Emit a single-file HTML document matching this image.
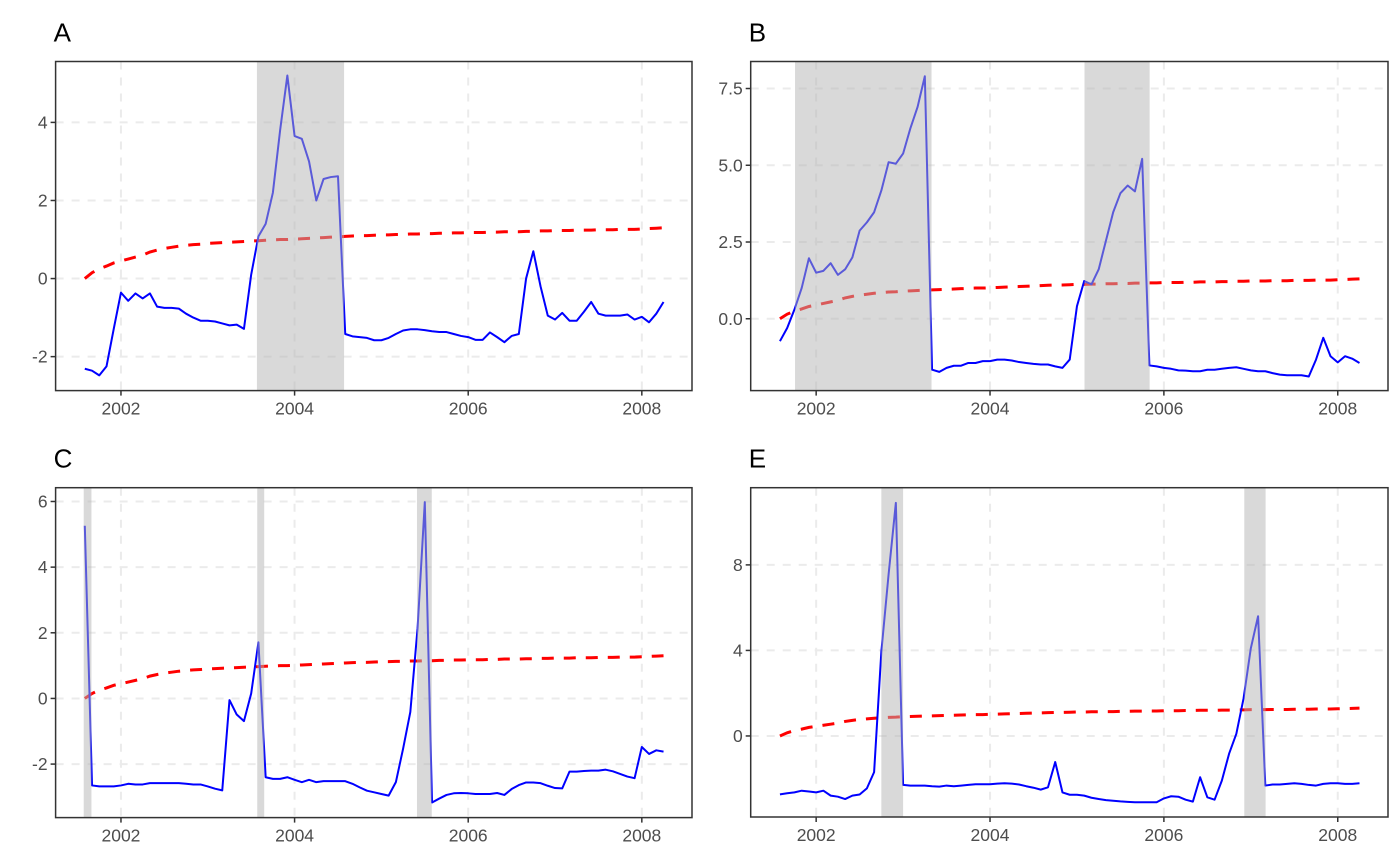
<!DOCTYPE html>
<html><head><meta charset="utf-8"><style>
html,body{margin:0;padding:0;background:#fff;}
svg{display:block;font-family:"Liberation Sans",sans-serif;}
</style></head><body>
<svg id="chart" width="1400" height="866" viewBox="0 0 1400 866"></svg>
<script>
const monthsStart = 2001 + 7/12;
const xTicks = [2002, 2004, 2006, 2008];
const redA = [0,0.15,0.25,0.32,0.4, 0.45,0.5,0.55,0.6,0.68,0.73,0.77,0.8,0.83,0.85,0.87,0.88, 0.9,0.91,0.92,0.93,0.94,0.95,0.96,0.97,0.98,0.99,1.0,1.0, 1.01,1.02,1.03,1.04,1.05,1.06,1.07,1.08,1.09,1.1,1.1,1.11, 1.12,1.12,1.13,1.13,1.14,1.14,1.15,1.15,1.16,1.16,1.17,1.17, 1.18,1.18,1.18,1.19,1.19,1.2,1.2,1.2,1.21,1.21,1.22,1.22, 1.23,1.23,1.23,1.24,1.24,1.24,1.25,1.25,1.25,1.26,1.26,1.26, 1.27,1.28,1.29,1.3];
const blueA = [-2.31,-2.36,-2.48,-2.25,-1.29, -0.36,-0.57,-0.38,-0.51,-0.38,-0.72,-0.75,-0.75,-0.77,-0.9,-1.0,-1.08, -1.08,-1.1,-1.15,-1.2,-1.18,-1.29,0.1,1.08,1.4,2.2,3.8,5.2, 3.65,3.58,3.0,2.0,2.55,2.6,2.62,-1.42,-1.48,-1.5,-1.52,-1.58, -1.58,-1.52,-1.42,-1.33,-1.3,-1.3,-1.32,-1.35,-1.37,-1.37,-1.42,-1.47, -1.5,-1.57,-1.57,-1.38,-1.5,-1.63,-1.47,-1.42,0.0,0.7,-0.2,-0.95, -1.05,-0.88,-1.08,-1.08,-0.85,-0.6,-0.9,-0.95,-0.95,-0.95,-0.92,-1.05, -0.98,-1.12,-0.9,-0.6];
const blueB = [-0.73,-0.3,0.3,1.0,1.97, 1.5,1.56,1.81,1.43,1.61,2.0,2.87,3.14,3.47,4.18,5.1,5.05, 5.38,6.2,6.9,7.9,-1.66,-1.73,-1.6,-1.53,-1.53,-1.44,-1.44,-1.38, -1.38,-1.33,-1.33,-1.36,-1.41,-1.44,-1.47,-1.49,-1.49,-1.55,-1.6,-1.33, 0.41,1.23,1.12,1.61,2.54,3.47,4.09,4.34,4.15,5.21,-1.52,-1.55, -1.6,-1.63,-1.68,-1.69,-1.71,-1.71,-1.66,-1.66,-1.63,-1.6,-1.58,-1.63, -1.68,-1.71,-1.71,-1.77,-1.82,-1.84,-1.84,-1.84,-1.88,-1.33,-0.62,-1.22, -1.42,-1.22,-1.3,-1.44];
const blueC = [5.26,-2.65,-2.68,-2.68,-2.68, -2.65,-2.6,-2.62,-2.62,-2.58,-2.58,-2.58,-2.58,-2.58,-2.6,-2.62,-2.62, -2.68,-2.75,-2.8,-0.05,-0.49,-0.69,0.15,1.71,-2.4,-2.45,-2.45,-2.4, -2.48,-2.55,-2.48,-2.55,-2.52,-2.52,-2.52,-2.52,-2.6,-2.71,-2.81,-2.86, -2.91,-2.96,-2.55,-1.53,-0.41,2.14,5.98,-3.17,-3.05,-2.94,-2.89,-2.88, -2.89,-2.91,-2.91,-2.91,-2.88,-2.94,-2.76,-2.64,-2.56,-2.56,-2.58,-2.66, -2.73,-2.74,-2.23,-2.23,-2.21,-2.2,-2.2,-2.17,-2.22,-2.3,-2.38,-2.43, -1.48,-1.69,-1.58,-1.62];
const blueE = [-2.73,-2.68,-2.64,-2.56,-2.6, -2.64,-2.56,-2.79,-2.84,-2.95,-2.79,-2.74,-2.45,-1.69,3.95,7.56,10.9, -2.29,-2.32,-2.32,-2.32,-2.35,-2.37,-2.32,-2.35,-2.32,-2.29,-2.26,-2.26, -2.26,-2.23,-2.21,-2.23,-2.27,-2.35,-2.42,-2.51,-2.4,-1.22,-2.64,-2.75, -2.75,-2.79,-2.89,-2.95,-3.0,-3.03,-3.06,-3.08,-3.1,-3.1,-3.1,-3.1, -2.92,-2.82,-2.84,-2.98,-3.07,-1.93,-2.87,-2.98,-2.09,-0.83,0.1,1.76, 4.1,5.6,-2.32,-2.27,-2.27,-2.24,-2.21,-2.24,-2.29,-2.32,-2.24,-2.21, -2.21,-2.24,-2.24,-2.21];
const shadesA = [[2003.566, 2004.57]];
const shadesB = [[2001.757, 2003.327], [2005.087, 2005.836]];
const shadesC = [[2001.571, 2001.66], [2003.57, 2003.65], [2005.41, 2005.58]];
const shadesE = [[2002.75, 2003.0], [2006.925, 2007.17]];
const yTicksA = [-2, 0, 2, 4];
const yTicksB = [0, 2.5, 5, 7.5];
const yTicksC = [-2, 0, 2, 4, 6];
const yTicksE = [0, 4, 8];
const yLabelsB = ["0.0", "2.5", "5.0", "7.5"];

const NS = "http://www.w3.org/2000/svg";
const svg = document.getElementById("chart");
function mk(tag, parent, attrs) {
  const e = document.createElementNS(NS, tag);
  for (const k in attrs) e.setAttribute(k, attrs[k]);
  parent.appendChild(e);
  return e;
}
const xMin = 2001.247, xMax = 2008.578;

function panel(cfg) {
  const g = mk("g", svg, {});
  
  
  const L = cfg.L, R = cfg.R, T = cfg.T, B = cfg.B;
  const sx = v => L + (v - xMin) / (xMax - xMin) * (R - L);
  const sy = v => B - (v - cfg.yMin) / (cfg.yMax - cfg.yMin) * (B - T);
  const tt = mk("text", g, {x: L - 2, y: T - 20, "font-size": 26, fill: "#000"});
  tt.textContent = cfg.title;
  
  
  cfg.yTicks.forEach((v, i) => {
    const ln = mk("line", g, {x1: L, x2: R, y1: sy(v), y2: sy(v), stroke: "#ebebeb", "stroke-width": 2, "stroke-dasharray": "8 8"});
    
    
  });
  xTicks.forEach(v => {
    const ln = mk("line", g, {x1: sx(v), x2: sx(v), y1: T, y2: B, stroke: "#ebebeb", "stroke-width": 2, "stroke-dasharray": "8 8"});
    
    
  });
  const px = i => sx(monthsStart + i / 12);
  let d = cfg.red.map((v, i) => (i ? "L" : "M") + px(i).toFixed(2) + "," + sy(v).toFixed(2)).join("");
  const rl = mk("path", g, {d: d, fill: "none", stroke: "#ff0000", "stroke-width": 3, "stroke-dasharray": "12 10"});
  
  
  d = cfg.blue.map((v, i) => (i ? "L" : "M") + px(i).toFixed(2) + "," + sy(v).toFixed(2)).join("");
  const bl = mk("path", g, {d: d, fill: "none", stroke: "#0000ff", "stroke-width": 2, "stroke-linejoin": "round"});
  
  
  cfg.shades.forEach(s => {
    const r = mk("rect", g, {x: sx(s[0]), y: T, width: sx(s[1]) - sx(s[0]), height: B - T, fill: "rgb(180,180,180)", "fill-opacity": 0.5});
    
    
  });
  const bx = mk("rect", g, {x: L, y: T, width: R - L, height: B - T, fill: "none", stroke: "#333", "stroke-width": 1.5});
  
  
  cfg.yTicks.forEach((v, i) => {
    mk("line", g, {x1: L - 5, x2: L, y1: sy(v), y2: sy(v), stroke: "#333", "stroke-width": 1.5});
    const t = mk("text", g, {x: L - 8, y: sy(v) + 6, "text-anchor": "end", "font-size": 17.5, fill: "#4d4d4d"});
    t.textContent = cfg.yLabels ? cfg.yLabels[i] : String(v);
    
    
  });
  xTicks.forEach(v => {
    mk("line", g, {x1: sx(v), x2: sx(v), y1: B, y2: B + 5, stroke: "#333", "stroke-width": 1.5});
    const t = mk("text", g, {x: sx(v), y: B + 24, "text-anchor": "middle", "font-size": 17.5, fill: "#4d4d4d"});
    t.textContent = String(v);
    
    
  });
}

panel({title: "A", L: 55.6, R: 692, T: 61.5, B: 390.6, yMin: -2.87, yMax: 5.56, yTicks: yTicksA, red: redA, blue: blueA, shades: shadesA});
panel({title: "B", L: 750.7, R: 1388, T: 61.5, B: 390.6, yMin: -2.34, yMax: 8.38, yTicks: yTicksB, yLabels: yLabelsB, red: redA, blue: blueB, shades: shadesB});
panel({title: "C", L: 55.6, R: 692, T: 487.7, B: 817.6, yMin: -3.63, yMax: 6.42, yTicks: yTicksC, red: redA, blue: blueC, shades: shadesC});
panel({title: "E", L: 750.7, R: 1388, T: 487.7, B: 817, yMin: -3.79, yMax: 11.61, yTicks: yTicksE, red: redA, blue: blueE, shades: shadesE});
</script>
</body></html>
